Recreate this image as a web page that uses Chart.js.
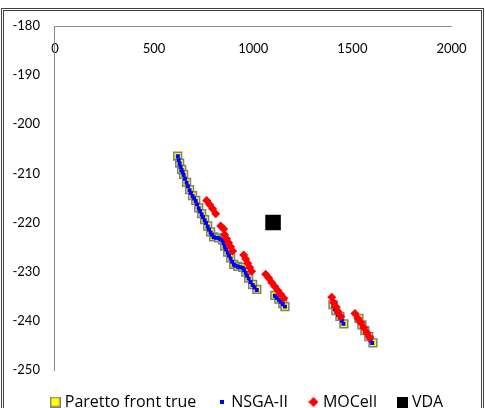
<!DOCTYPE html>
<html>
<head>
<meta charset="UTF-8" />
<title>Pareto fronts</title>
<script src="https://cdn.jsdelivr.net/npm/chart.js"></script>
<style>
  body { margin: 0; background: #fff; overflow: hidden; }
  #frame { position: absolute; left: 1px; top: 8px; width: 477px; height: 430px; border: 3px double #404040; }
  #c { position: absolute; left: 0; top: 0; }
</style>
</head>
<body>
<div id="frame"></div>
<canvas id="c" width="485" height="423"></canvas>

<script>
// values
const paretoX = [619,629,639,649,664,679,694,710,725,740,755,770,785,800,826,846,856,871,886,902,922,947,962,977,997,1018,1109,1129,1149,1160,1402,1417,1437,1457,1533,1548,1563,1583,1604];
const paretoY = [-206.5,-207.9,-209.2,-210.2,-211.8,-213.3,-214.5,-215.5,-217.0,-218.2,-219.4,-220.7,-221.9,-222.9,-223.1,-223.5,-224.8,-226.0,-227.2,-228.5,-228.9,-229.1,-230.1,-231.3,-232.6,-233.6,-234.8,-235.6,-236.5,-237.1,-236.7,-237.9,-239.1,-240.6,-239.5,-240.8,-242.0,-243.2,-244.5];

const nsgaX = [620,624,629,634,639,644,649,656,664,671,679,686,694,702,710,717,725,732,740,747,755,762,770,777,785,792,800,813,826,836,846,851,856,863,871,878,886,894,902,912,922,934,947,954,962,969,977,987,997,1007,1018,1109,1119,1129,1139,1149,1160,1404,1412,1420,1428,1437,1447,1455,1535,1543,1550,1558,1566,1575,1583,1592,1600];
const nsgaY = [-206.5,-207.3,-208.0,-208.7,-209.3,-209.8,-210.3,-211.1,-211.9,-212.6,-213.4,-214.0,-214.6,-215.1,-215.6,-216.3,-217.1,-217.7,-218.3,-218.9,-219.5,-220.1,-220.8,-221.4,-222.0,-222.5,-223.0,-223.1,-223.2,-223.4,-223.6,-224.2,-224.9,-225.5,-226.1,-226.7,-227.3,-228.0,-228.6,-228.8,-229.0,-229.1,-229.2,-229.7,-230.2,-230.8,-231.4,-232.1,-232.7,-233.2,-233.7,-234.9,-235.3,-235.7,-236.1,-236.6,-237.1,-237.0,-237.6,-238.2,-238.8,-239.3,-240.0,-240.6,-239.8,-240.4,-241.0,-241.6,-242.2,-242.8,-243.4,-244.0,-244.5];

const mocellX = [765,780,795,811,836,851,856,866,876,886,896,952,962,972,982,992,1063,1078,1093,1109,1124,1139,1154,1396,1406,1416,1427,1442,1513,1528,1543,1558,1573,1588];
const mocellY = [-215.5,-216.3,-217.2,-218.2,-220.7,-221.3,-222.5,-223.3,-224.1,-224.9,-225.8,-226.6,-227.4,-228.3,-229.1,-229.9,-230.5,-231.3,-232.2,-233.0,-233.8,-234.6,-235.4,-235.2,-236.3,-237.1,-238.1,-239.1,-238.5,-239.5,-240.4,-241.4,-242.4,-243.4];

const vdaX = [1100];
const vdaY = [-220];

const seriesNames = ["Paretto front true", "NSGA-II", "MOCell", "VDA"];

function pts(xs, ys) {
    return xs.map((x, i) => ({x: x, y: ys[i]}));
}

// small canvases used as legend markers
function icon(w, h, draw) {
    let cv = document.createElement("canvas");
    cv.width = w; cv.height = h;
    draw(cv.getContext("2d"));
    return cv;
}
const legendIcons = [
    icon(11, 11, g => { g.fillStyle = "#7f7f7f"; g.fillRect(0, 0, 11, 11); g.fillStyle = "#ffff00"; g.fillRect(1.5, 1.5, 8, 8); }),
    icon(4, 4, g => { g.fillStyle = "#0000ff"; g.fillRect(0, 0, 4, 4); }),
    icon(10, 10, g => { g.fillStyle = "#ff0000"; g.beginPath(); g.moveTo(5, 0); g.lineTo(10, 5); g.lineTo(5, 10); g.lineTo(0, 5); g.closePath(); g.fill(); }),
    icon(11, 11, g => { g.fillStyle = "#000000"; g.fillRect(0, 0, 11, 11); })
];

// legend sits a bit right of the canvas centre in the original
const legendShift = {
    id: "legendShift",
    afterLayout(chart) {
        chart.legend.left += 24;
        chart.legend.right += 24;
    }
};

Chart.defaults.font.family = "Lato, 'Open Sans', sans-serif";
Chart.defaults.color = "#000";

let ctx = document.getElementById("c").getContext("2d");
new Chart(ctx, {
    type: "scatter",
    data: {
        datasets: [
            { label: seriesNames[0], data: pts(paretoX, paretoY), order: 4, pointStyle: "rect", pointRadius: 5.5, backgroundColor: "#ffff00", borderColor: "#7f7f7f", borderWidth: 1.5 },
            { label: seriesNames[1], data: pts(nsgaX, nsgaY), order: 3, pointStyle: "rect", pointRadius: 2.8, backgroundColor: "#0000ff", borderWidth: 0 },
            { label: seriesNames[2], data: pts(mocellX, mocellY), order: 2, pointStyle: "rectRot", pointRadius: 4.5, backgroundColor: "#ff0000", borderWidth: 0 },
            { label: seriesNames[3], data: pts(vdaX, vdaY), order: 1, pointStyle: "rect", pointRadius: 11, backgroundColor: "#000000", borderWidth: 0 }
        ]
    },
    options: {
        responsive: false,
        animation: false,
        layout: { padding: { top: 26, left: -2.5, right: 33.5, bottom: 3 } },
        scales: {
            x: {
                type: "linear",
                position: { y: -180 },
                min: 0, max: 2000,
                ticks: { stepSize: 500, padding: 15, font: { size: 13 }, callback: v => String(v) },
                grid: { display: false, drawTicks: false },
                border: { display: true, color: "#8c8c8c" }
            },
            y: {
                type: "linear",
                min: -250, max: -180,
                ticks: { stepSize: 10, padding: 15, font: { size: 13 } },
                grid: { display: false, drawTicks: false },
                border: { display: true, color: "#8c8c8c" }
            }
        },
        plugins: {
            tooltip: { enabled: false },
            legend: {
                position: "bottom",
                labels: {
                    usePointStyle: true,
                    pointStyleWidth: 3,
                    padding: 24,
                    font: { family: "'Open Sans', Lato, sans-serif", size: 16 },
                    sort: (a, b) => a.datasetIndex - b.datasetIndex,
                    generateLabels: function(chart) {
                        let items = Chart.defaults.plugins.legend.labels.generateLabels(chart);
                        items.forEach(it => { it.pointStyle = legendIcons[it.datasetIndex]; });
                        return items;
                    }
                }
            }
        }
    },
    plugins: [legendShift]
});
</script>
</body>
</html>
